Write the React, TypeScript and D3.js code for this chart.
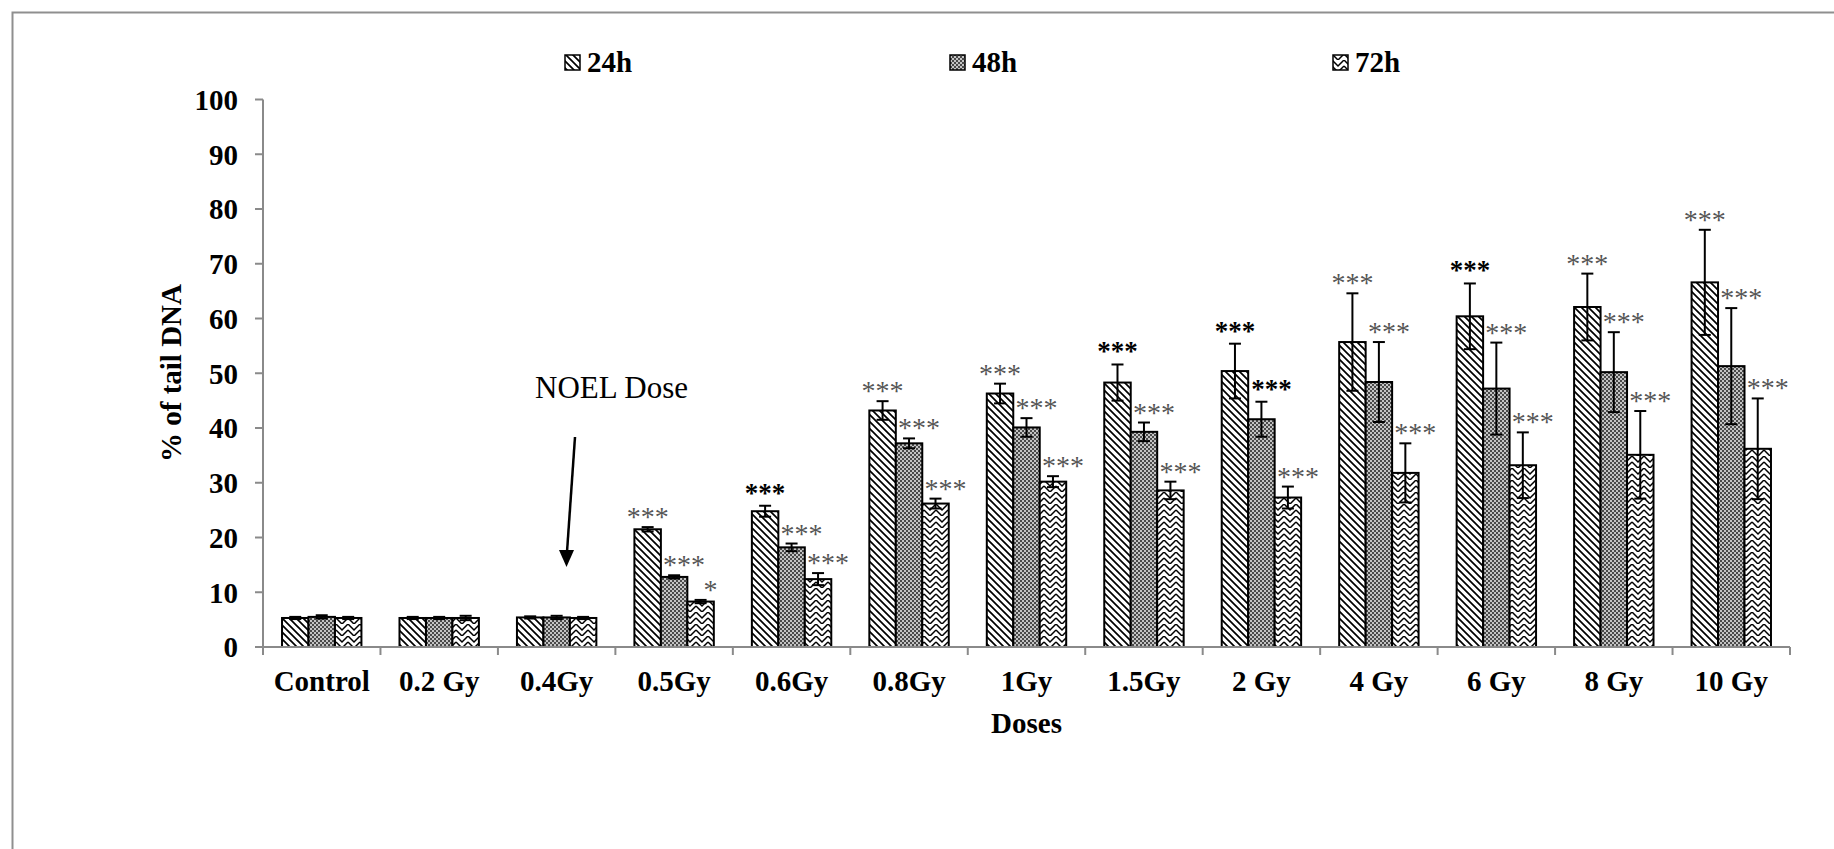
import React from "react";
import * as d3 from "d3";

// Comet assay: % of tail DNA per irradiation dose at three post-exposure times
const doses = ["Control", "0.2 Gy", "0.4Gy", "0.5Gy", "0.6Gy", "0.8Gy", "1Gy", "1.5Gy", "2 Gy", "4 Gy", "6 Gy", "8 Gy", "10 Gy"];
const seriesNames = ["24h", "48h", "72h"];

const mean24h = [5.3, 5.3, 5.4, 21.5, 24.8, 43.2, 46.3, 48.3, 50.4, 55.7, 60.4, 62.1, 66.6];
const err24h = [0.2, 0.2, 0.2, 0.4, 1.0, 1.7, 1.8, 3.3, 5.0, 8.9, 6.0, 6.1, 9.6];
const mean48h = [5.5, 5.3, 5.4, 12.8, 18.2, 37.2, 40.1, 39.3, 41.6, 48.4, 47.2, 50.2, 51.3];
const err48h = [0.3, 0.2, 0.3, 0.3, 0.7, 0.9, 1.7, 1.7, 3.2, 7.3, 8.4, 7.3, 10.6];
const mean72h = [5.3, 5.3, 5.3, 8.3, 12.4, 26.2, 30.2, 28.6, 27.3, 31.8, 33.2, 35.1, 36.2];
const err72h = [0.2, 0.4, 0.2, 0.3, 1.1, 0.9, 1.0, 1.6, 2.0, 5.4, 6.0, 8.0, 9.2];

// significance marks ("" = none); the second list flags marks set in bold
const stars24h = ["", "", "", "***", "***", "***", "***", "***", "***", "***", "***", "***", "***"];
const stars48h = ["", "", "", "***", "***", "***", "***", "***", "***", "***", "***", "***", "***"];
const stars72h = ["", "", "", "*", "***", "***", "***", "***", "***", "***", "***", "***", "***"];
const bold24h = [false, false, false, false, true, false, false, true, true, false, true, false, false];
const bold48h = [false, false, false, false, false, false, false, false, true, false, false, false, false];
const bold72h = [false, false, false, false, false, false, false, false, false, false, false, false, false];

const yTicks = [0, 10, 20, 30, 40, 50, 60, 70, 80, 90, 100];

const W = 1834;
const H = 849;
const FONT = "'Liberation Serif', 'Times New Roman', serif";
const AXIS = "#8a8a8a";

const seriesData = [
  { name: "24h", mean: mean24h, err: err24h, stars: stars24h, bold: bold24h, fill: "url(#pat24)", dx: 0 },
  { name: "48h", mean: mean48h, err: err48h, stars: stars48h, bold: bold48h, fill: "url(#pat48)", dx: 10 },
  { name: "72h", mean: mean72h, err: err72h, stars: stars72h, bold: bold72h, fill: "url(#pat72)", dx: 10 },
];

export default function App() {
  const x0 = d3.scaleBand<string>().domain(doses).range([263, 1790]).paddingInner(0).paddingOuter(0);
  const gap = x0.bandwidth() * 0.162;
  const x1 = d3.scaleBand<string>().domain(seriesNames).range([gap, x0.bandwidth() - gap]);
  const y = d3.scaleLinear().domain([0, 100]).range([647, 99.5]);
  const bw = x1.bandwidth();
  const [xStart, xEnd] = x0.range();
  const boundaries = doses.map((d) => x0(d) as number).concat([xEnd]);

  const legendX = [565, 950, 1333];

  return (
    <svg
      width={W}
      height={H}
      viewBox={`0 0 ${W} ${H}`}
      style={{ position: "absolute", left: 0, top: 0, background: "#fff" }}
      fontFamily={FONT}
    >
      <defs>
        <pattern id="pat24" patternUnits="userSpaceOnUse" width={7} height={7}>
          <rect width={7} height={7} fill="#fff" />
          <path d="M-1,-1 L8,8 M-1,6 L1,8 M6,-1 L8,1" stroke="#000" strokeWidth={1.7} />
        </pattern>
        <pattern id="pat48" patternUnits="userSpaceOnUse" width={4} height={4}>
          <rect width={4} height={4} fill="#c4c4c4" />
          <rect x={0} y={0} width={2} height={2} fill="#4a4a4a" />
          <rect x={2} y={2} width={2} height={2} fill="#4a4a4a" />
        </pattern>
        <pattern id="pat72" patternUnits="userSpaceOnUse" width={12} height={12}>
          <rect width={12} height={12} fill="#fff" />
          <path d="M0,0 L6,6 L12,0 M0,6 L6,12 L12,6" stroke="#000" strokeWidth={1.5} fill="none" />
        </pattern>
      </defs>

      <rect x={12.5} y={12.5} width={1900} height={900} fill="none" stroke="#8f8f8f" strokeWidth={2} />

      {/* legend */}
      {seriesData.map((s, i) => (
        <g key={s.name}>
          <rect x={legendX[i]} y={55} width={15} height={15} fill={s.fill} stroke="#000" strokeWidth={1.5} />
          <text x={legendX[i] + 22} y={72} fontSize={29} fontWeight="bold" fill="#000">
            {s.name}
          </text>
        </g>
      ))}

      {/* bars */}
      {seriesData.map((s) => (
        <g key={s.name}>
          {doses.map((d, i) => {
            const bx = (x0(d) as number) + (x1(s.name) as number);
            return (
              <rect
                key={d}
                x={bx}
                y={y(s.mean[i])}
                width={bw}
                height={y(0) - y(s.mean[i])}
                fill={s.fill}
                stroke="#000"
                strokeWidth={2}
              />
            );
          })}
        </g>
      ))}

      {/* error bars */}
      {seriesData.map((s) => (
        <g key={s.name} stroke="#000" strokeWidth={2}>
          {doses.map((d, i) => {
            const cx = (x0(d) as number) + (x1(s.name) as number) + bw / 2;
            const top = y(s.mean[i] + s.err[i]);
            const bot = y(s.mean[i] - s.err[i]);
            return (
              <g key={d}>
                <line x1={cx} x2={cx} y1={top} y2={bot} />
                <line x1={cx - 6} x2={cx + 6} y1={top} y2={top} />
                <line x1={cx - 6} x2={cx + 6} y1={bot} y2={bot} />
              </g>
            );
          })}
        </g>
      ))}

      {/* significance marks */}
      {seriesData.map((s) => (
        <g key={s.name}>
          {doses.map((d, i) => {
            if (!s.stars[i]) return null;
            const cx = (x0(d) as number) + (x1(s.name) as number) + bw / 2 + s.dx;
            const top = y(s.mean[i] + s.err[i]);
            const bold = s.bold[i];
            return (
              <text
                key={d}
                x={cx}
                y={bold ? top - 4 : top - 1}
                textAnchor="middle"
                fontSize={bold ? 27 : 28}
                fontWeight={bold ? "bold" : "normal"}
                fill={bold ? "#000" : "#555"}
              >
                {s.stars[i]}
              </text>
            );
          })}
        </g>
      ))}

      {/* y axis */}
      <line x1={xStart} x2={xStart} y1={y(100)} y2={y(0)} stroke={AXIS} strokeWidth={2} />
      {yTicks.map((t) => (
        <g key={t}>
          <line x1={xStart - 8} x2={xStart} y1={y(t)} y2={y(t)} stroke={AXIS} strokeWidth={2} />
          <text x={238} y={y(t) + 10.3} textAnchor="end" fontSize={29} fontWeight="bold" fill="#000">
            {t}
          </text>
        </g>
      ))}

      {/* x axis */}
      <line x1={xStart} x2={xEnd} y1={y(0)} y2={y(0)} stroke={AXIS} strokeWidth={2} />
      {boundaries.map((bx, i) => (
        <line key={i} x1={bx} x2={bx} y1={y(0)} y2={y(0) + 8} stroke={AXIS} strokeWidth={2} />
      ))}
      {doses.map((d) => (
        <text
          key={d}
          x={(x0(d) as number) + x0.bandwidth() / 2}
          y={691}
          textAnchor="middle"
          fontSize={29}
          fontWeight="bold"
          fill="#000"
        >
          {d}
        </text>
      ))}

      {/* axis titles */}
      <text x={(xStart + xEnd) / 2} y={733} textAnchor="middle" fontSize={29} fontWeight="bold" fill="#000">
        Doses
      </text>
      <text
        transform="translate(181,373) rotate(-90)"
        textAnchor="middle"
        fontSize={29}
        fontWeight="bold"
        fill="#000"
      >
        % of tail DNA
      </text>

      {/* NOEL annotation */}
      <text x={535} y={398} fontSize={31} fill="#000">
        NOEL Dose
      </text>
      <line x1={575} y1={437} x2={567} y2={552} stroke="#000" strokeWidth={2.5} />
      <path d="M559,550 L574,550 L566.5,567 Z" fill="#000" />
    </svg>
  );
}
